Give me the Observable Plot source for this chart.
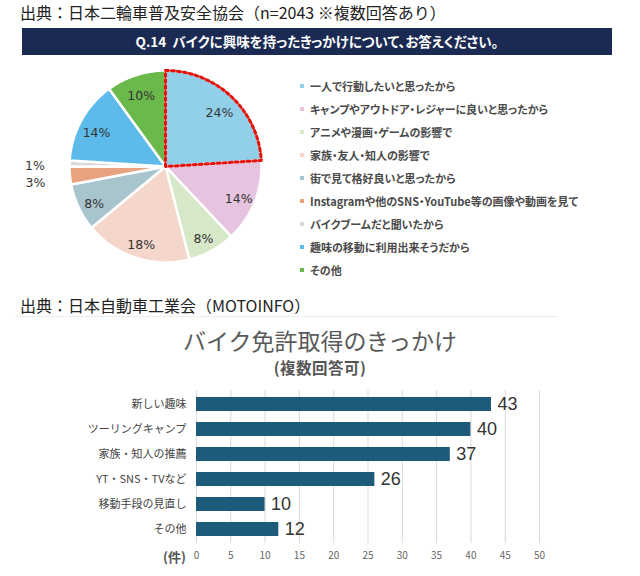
<!DOCTYPE html>
<html><head><meta charset="utf-8">
<script src="https://cdn.jsdelivr.net/npm/d3@7"></script>
<script src="https://cdn.jsdelivr.net/npm/@observablehq/plot@0.6"></script>
<style>
html,body{margin:0;padding:0;background:#fff;}
#root{position:relative;width:640px;height:576px;overflow:hidden;font-family:"Noto Sans CJK JP","Noto Sans",sans-serif;}
.abs{position:absolute;white-space:nowrap;}
#src1{left:20px;top:1px;font-size:16px;line-height:22px;color:#222;}
#banner{left:22px;top:28px;width:590px;height:27px;background:#1a2a52;color:#fff;font-weight:bold;font-size:13.5px;line-height:27px;text-align:center;font-feature-settings:"palt";}
#legend{left:300px;top:74px;font-feature-settings:"palt";}
.lg{height:23px;line-height:18px;font-size:11px;font-weight:bold;color:#4a4a4a;display:flex;align-items:center;}
.lg span.m{display:inline-block;width:4px;height:4px;margin-right:6px;}
#src2{left:20px;top:294px;font-size:16px;line-height:22px;color:#222;}
#rule{left:15px;top:316px;width:542px;height:1px;background:#eee;}
#title{left:0;width:640px;top:324px;text-align:center;font-size:23px;line-height:32px;color:#595959;}
#subtitle{left:0;width:640px;top:357px;text-align:center;font-size:15.5px;line-height:20px;color:#555;font-weight:bold;letter-spacing:0.5px;}
#unit{left:163px;top:547px;font-size:13px;line-height:20px;color:#555;font-weight:bold;}
#pie{left:0;top:56px;}
#bars{left:0;top:385px;}
</style></head>
<body><div id="root">
<div id="src1" class="abs">出典：日本二輪車普及安全協会（n=2043 ※複数回答あり）</div>
<div id="banner" class="abs">Q.14&nbsp;&nbsp;バイクに興味を持ったきっかけについて、お答えください。</div>
<div id="pie" class="abs"></div>
<div id="legend" class="abs"></div>
<div id="src2" class="abs">出典：日本自動車工業会（MOTOINFO）</div>
<div id="rule" class="abs"></div>
<div id="title" class="abs">バイク免許取得のきっかけ</div>
<div id="subtitle" class="abs">(複数回答可)</div>
<div id="bars" class="abs"></div>
<div id="unit" class="abs">(件)</div>
</div>
<script>
// ---- Pie data ----
const pieLabels = [
  "一人で行動したいと思ったから",
  "キャンプやアウトドア・レジャーに良いと思ったから",
  "アニメや漫画・ゲームの影響で",
  "家族・友人・知人の影響で",
  "街で見て格好良いと思ったから",
  "Instagramや他のSNS・YouTube等の画像や動画を見て",
  "バイクブームだと聞いたから",
  "趣味の移動に利用出来そうだから",
  "その他"
];
const pieValues = [24, 14, 8, 18, 8, 3, 1, 14, 10];
const pieColors = ["#92d0ea", "#e6c4df", "#d6e8c7", "#f4d7ca", "#a8c4cc", "#e9a27f", "#d9d9d9", "#5cbbea", "#6bb84b"];
const highlighted = pieLabels[0];

// ---- Bar data ----
const barCategories = ["新しい趣味", "ツーリングキャンプ", "家族・知人の推薦", "YT・SNS・TVなど", "移動手段の見直し", "その他"];
const barValues = [43, 40, 37, 26, 10, 12];
const xTicks = [0, 5, 10, 15, 20, 25, 30, 35, 40, 45, 50];

// ---- Pie geometry (from data) ----
const total = d3.sum(pieValues);
let acc = 0;
const slices = pieValues.map((v, i) => {
  const a0 = acc / total * 2 * Math.PI; acc += v;
  const a1 = acc / total * 2 * Math.PI;
  return {name: pieLabels[i], value: v, a0, a1, mid: (a0 + a1) / 2};
});
const outline = slices.flatMap(s => {
  const n = Math.max(2, Math.ceil((s.a1 - s.a0) / (Math.PI / 180)));
  const pts = [{name: s.name, x: 0, y: 0}];
  for (let k = 0; k <= n; k++) {
    const a = s.a0 + (s.a1 - s.a0) * k / n;
    pts.push({name: s.name, x: Math.sin(a), y: Math.cos(a)});
  }
  return pts;
});
const labelR = s => s.value < 5 ? 1.36 : 0.82;

const pie = Plot.plot({
  width: 300, height: 230, margin: 0,
  x: {domain: [-1, 1], range: [69, 261], axis: null},
  y: {domain: [-1, 1], range: [206, 14], axis: null},
  color: {domain: pieLabels, range: pieColors},
  style: {background: "transparent"},
  marks: [
    Plot.line(outline, {x: "x", y: "y", z: "name", fill: "name", stroke: "white", strokeWidth: 2.5, curve: "linear-closed"}),
    Plot.line(outline.filter(d => d.name === highlighted), {x: "x", y: "y", fill: "none", stroke: "#e3120b", strokeWidth: 3, strokeDasharray: "3,3", curve: "linear-closed"}),
    Plot.text(slices, {
      x: s => Math.sin(s.mid) * labelR(s),
      y: s => Math.cos(s.mid) * labelR(s),
      text: s => s.value + "%",
      dy: 4,
      fontSize: 12.5, fill: "#333", fontFamily: "DejaVu Sans, sans-serif"
    })
  ]
});
document.getElementById("pie").append(pie);

// ---- Legend ----
const legend = document.getElementById("legend");
pieLabels.forEach((lab, i) => {
  const row = document.createElement("div");
  row.className = "lg";
  const m = document.createElement("span");
  m.className = "m"; m.style.background = pieColors[i];
  row.append(m, document.createTextNode(lab));
  legend.append(row);
});

// ---- Bar chart ----
const barData = barCategories.map((c, i) => ({cat: c, value: barValues[i]}));
const bars = Plot.plot({
  width: 640, height: 180,
  marginLeft: 196, marginRight: 101, marginTop: 5, marginBottom: 22,
  x: {domain: [0, 50], ticks: xTicks},
  y: {domain: barCategories, paddingInner: 0.45, paddingOuter: 0.24},
  style: {fontFamily: "Noto Sans CJK JP, sans-serif", background: "transparent"},
  marks: [
    Plot.gridX(xTicks, {stroke: "#d9d9d9", strokeOpacity: 1, strokeWidth: 1}),
    Plot.barX(barData, {x: "value", y: "cat", fill: "#1e5b7b"}),
    Plot.text(barData, {x: "value", y: "cat", text: d => String(d.value), dx: 6, textAnchor: "start", fontSize: 18, fill: "#333", fontFamily: "Liberation Sans, sans-serif"}),
    Plot.axisX({ticks: xTicks, tickSize: 0, tickPadding: 8, fontSize: 10, fill: "#666", label: null}),
    Plot.axisY({tickSize: 0, tickPadding: 10, fontSize: 11, fill: "#444", label: null})
  ]
});
document.getElementById("bars").append(bars);
</script>
</body></html>
